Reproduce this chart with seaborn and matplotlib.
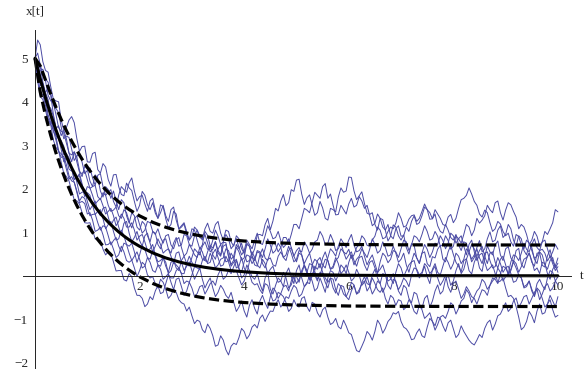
import numpy as np
import pandas as pd
import matplotlib
matplotlib.use('Agg')
import matplotlib.pyplot as plt
import seaborn as sns
from matplotlib.ticker import MultipleLocator, FixedLocator

# sample paths, one value every 0.05 in t from 0 to 10
path1 = [5.00, 5.42, 5.31, 4.92, 4.72, 4.68, 4.35, 4.06, 4.02, 4.00, 3.58, 3.35, 3.41, 3.58, 3.66, 3.52, 3.15, 2.86, 2.97, 2.98,
         2.62, 2.61, 2.81, 2.84, 2.44, 2.36, 2.58, 2.50, 2.21, 2.06, 2.32, 2.33, 2.05, 1.87, 1.84, 2.13, 2.02, 1.96, 1.71, 1.48,
         1.62, 1.94, 1.85, 1.63, 1.52, 1.68, 1.44, 1.32, 1.63, 1.59, 1.31, 1.10, 1.18, 1.48, 1.42, 1.07, 1.12, 1.19, 0.95, 0.82,
         1.08, 1.05, 0.82, 0.62, 0.71, 1.02, 0.93, 0.69, 0.64, 0.79, 0.58, 0.48, 0.77, 0.76, 0.45, 0.26, 0.36, 0.66, 0.55, 0.36,
         0.41, 0.75, 0.68, 0.47, 0.62, 0.94, 0.95, 0.92, 1.18, 1.32, 1.06, 1.26, 1.55, 1.49, 1.72, 1.87, 1.61, 1.68, 1.98, 1.94,
         2.20, 2.22, 1.88, 1.64, 1.79, 1.86, 1.62, 1.39, 1.45, 1.71, 1.56, 1.32, 1.28, 1.55, 1.52, 1.47, 1.81, 2.02, 1.92, 1.95,
         2.27, 2.26, 1.95, 1.75, 1.84, 1.93, 1.66, 1.44, 1.41, 1.45, 1.18, 1.05, 1.32, 1.29, 1.05, 0.80, 0.91, 1.17, 1.12, 0.92,
         0.82, 0.94, 0.65, 0.50, 0.74, 0.70, 0.41, 0.29, 0.52, 0.55, 0.28, 0.21, 0.44, 0.41, 0.61, 0.70, 0.38, 0.32, 0.55, 0.70,
         0.49, 0.31, 0.22, 0.09, 0.35, 0.39, 0.12, 0.04, 0.31, 0.45, 0.18, 0.10, 0.42, 0.69, 0.55, 0.48, 0.71, 0.80, 0.48, 0.35,
         0.62, 0.67, 0.41, 0.32, 0.58, 0.63, 0.27, 0.18, 0.39, 0.53, 0.31, 0.22, 0.52, 0.53, 0.24, 0.20, 0.46, 0.60, 0.33, 0.22, 0.41]
path2 = [5.00, 4.85, 4.38, 4.35, 4.05, 3.70, 3.52, 3.48, 3.21, 2.88, 2.72, 2.75, 2.55, 2.30, 2.18, 2.15, 1.92, 1.68, 1.71, 1.66,
         1.42, 1.45, 1.28, 1.02, 1.05, 1.12, 0.94, 0.71, 0.72, 0.78, 0.61, 0.42, 0.48, 0.68, 0.55, 0.35, 0.31, 0.36, 0.18, -0.02,
         0.12, 0.31, 0.25, 0.02, -0.05, -0.02, -0.18, -0.28, -0.08, -0.15, -0.31, -0.52, -0.45, -0.30, -0.38, -0.55, -0.62, -0.65, -0.81, -0.72,
         -0.92, -1.10, -1.02, -1.05, -1.24, -1.31, -1.11, -1.21, -1.38, -1.62, -1.59, -1.38, -1.48, -1.70, -1.82, -1.62, -1.55, -1.58, -1.42, -1.21,
         -1.28, -1.45, -1.36, -1.18, -1.12, -1.20, -0.98, -0.90, -1.05, -0.92, -0.81, -0.82, -0.66, -0.55, -0.72, -0.62, -0.48, -0.52, -0.35, -0.22,
         -0.28, -0.48, -0.42, -0.25, -0.15, -0.18, 0.05, 0.10, -0.08, 0.02, 0.21, 0.38, 0.35, 0.15, 0.18, 0.35, 0.42, 0.62, 0.55, 0.50,
         0.61, 0.40, 0.48, 0.65, 0.72, 0.92, 0.85, 0.70, 0.68, 0.82, 0.91, 1.12, 1.05, 0.85, 0.88, 1.02, 1.12, 1.08, 1.21, 1.45,
         1.32, 1.12, 1.15, 1.30, 1.38, 1.40, 1.25, 1.32, 1.48, 1.65, 1.52, 1.30, 1.31, 1.52, 1.42, 1.32, 1.18, 1.15, 1.35, 1.41,
         1.22, 1.32, 1.55, 1.75, 1.78, 1.85, 2.02, 1.88, 1.71, 1.62, 1.42, 1.35, 1.51, 1.45, 1.22, 1.02, 1.08, 1.25, 1.19, 1.02,
         0.92, 0.98, 0.78, 0.68, 0.95, 0.90, 0.71, 0.62, 0.82, 0.75, 0.58, 0.40, 0.45, 0.58, 0.61, 0.52, 0.34, 0.45, 0.28, 0.12, 0.21]
path3 = [5.00, 4.92, 4.62, 4.31, 4.21, 4.05, 3.72, 3.38, 3.31, 3.25, 3.02, 2.78, 2.81, 2.71, 2.45, 2.21, 2.28, 2.30, 2.05, 1.82,
         1.91, 1.85, 1.62, 1.41, 1.48, 1.52, 1.31, 1.08, 1.18, 1.25, 1.02, 0.82, 0.85, 1.05, 0.92, 0.72, 0.68, 0.75, 0.55, 0.31,
         0.48, 0.70, 0.61, 0.42, 0.38, 0.58, 0.45, 0.25, 0.22, 0.41, 0.31, 0.05, 0.12, 0.32, 0.25, 0.18, 0.05, -0.18, -0.12, -0.15,
         0.02, 0.21, 0.18, 0.15, 0.35, 0.45, 0.28, 0.31, 0.51, 0.61, 0.42, 0.22, 0.25, 0.45, 0.32, 0.12, 0.08, 0.12, -0.05, -0.21,
         -0.12, 0.08, 0.05, -0.15, -0.21, -0.18, -0.32, -0.41, -0.18, -0.22, -0.41, -0.58, -0.55, -0.38, -0.42, -0.48, -0.62, -0.82, -0.75, -0.55,
         -0.68, -0.72, -0.52, -0.48, -0.71, -0.82, -0.61, -0.65, -0.85, -0.95, -0.78, -0.72, -0.95, -1.12, -1.08, -0.98, -1.17, -1.22, -1.02, -1.15,
         -1.31, -1.35, -1.54, -1.72, -1.75, -1.62, -1.48, -1.28, -1.35, -1.48, -1.28, -1.02, -1.12, -1.32, -1.21, -1.05, -0.98, -0.85, -0.88, -0.82,
         -1.05, -1.18, -1.22, -1.31, -1.47, -1.45, -1.31, -1.22, -1.38, -1.42, -1.18, -0.98, -1.05, -1.25, -1.12, -0.95, -0.91, -0.98, -0.82, -0.62,
         -0.68, -0.88, -0.75, -0.58, -0.52, -0.32, -0.41, -0.62, -0.48, -0.35, -0.28, -0.08, -0.15, -0.31, -0.22, -0.12, -0.05, 0.18, 0.08, -0.12,
         -0.02, 0.05, 0.15, 0.35, 0.28, 0.08, 0.21, 0.38, 0.42, 0.52, 0.35, 0.12, 0.18, 0.05, 0.31, 0.28, 0.05, -0.08, 0.15, 0.25, 0.08]
path4 = [5.00, 4.72, 4.71, 4.75, 4.48, 4.15, 4.02, 3.98, 3.71, 3.41, 3.32, 3.28, 3.05, 2.82, 2.78, 2.85, 2.61, 2.38, 2.35, 2.42,
         2.21, 2.01, 2.05, 2.08, 1.82, 1.75, 1.91, 1.85, 1.62, 1.48, 1.51, 1.58, 1.38, 1.32, 1.52, 1.45, 1.25, 1.10, 1.31, 1.38,
         1.18, 0.98, 1.05, 1.25, 1.22, 1.02, 0.95, 1.08, 0.88, 0.75, 0.92, 0.95, 0.71, 0.62, 0.82, 0.88, 0.65, 0.45, 0.52, 0.72,
         0.61, 0.48, 0.42, 0.65, 0.55, 0.35, 0.31, 0.52, 0.38, 0.18, 0.25, 0.38, 0.41, 0.62, 0.58, 0.38, 0.45, 0.72, 0.62, 0.75,
         0.51, 0.32, 0.35, 0.55, 0.42, 0.25, 0.18, 0.38, 0.28, 0.05, 0.15, 0.22, 0.02, -0.15, -0.12, 0.08, -0.05, -0.28, -0.21, -0.02,
         -0.18, -0.08, 0.05, 0.25, 0.12, -0.10, -0.02, 0.22, 0.15, 0.28, 0.08, -0.05, -0.15, -0.05, -0.28, -0.40, -0.18, -0.25, -0.42, -0.48,
         -0.35, -0.15, -0.21, -0.42, -0.32, -0.18, -0.12, -0.35, -0.25, -0.05, -0.18, -0.32, -0.38, -0.28, -0.52, -0.65, -0.45, -0.51, -0.68, -0.55,
         -0.58, -0.78, -0.72, -0.55, -0.65, -0.82, -0.88, -0.68, -0.78, -0.98, -0.92, -0.85, -1.05, -1.15, -0.95, -0.98, -1.15, -1.28, -1.08, -1.02,
         -1.22, -1.42, -1.35, -1.15, -1.28, -1.38, -1.48, -1.55, -1.59, -1.48, -1.35, -1.42, -1.21, -1.08, -1.02, -1.25, -1.11, -0.92, -0.88, -0.75,
         -0.62, -0.82, -0.75, -0.58, -0.51, -0.72, -0.62, -0.48, -0.45, -0.65, -0.52, -0.38, -0.31, -0.55, -0.42, -0.25, -0.18, -0.35, -0.28, -0.12, -0.21]
path5 = [5.00, 4.58, 4.25, 4.15, 3.92, 3.62, 3.48, 3.35, 3.12, 2.85, 2.81, 2.68, 2.45, 2.22, 2.28, 2.15, 1.95, 1.72, 1.82, 1.78,
         1.58, 1.38, 1.41, 1.42, 1.22, 1.05, 1.15, 1.12, 0.92, 0.71, 0.81, 0.88, 0.68, 0.55, 0.75, 0.72, 0.52, 0.35, 0.45, 0.55,
         0.38, 0.18, 0.22, 0.42, 0.31, 0.12, 0.08, 0.25, 0.15, -0.08, -0.02, 0.05, -0.15, -0.32, -0.08, -0.05, -0.25, -0.45, -0.35, -0.15,
         -0.28, -0.48, -0.41, -0.25, -0.22, -0.42, -0.31, -0.18, -0.12, -0.22, 0.02, 0.15, -0.08, -0.02, 0.12, 0.05, 0.21, 0.35, 0.15, 0.08,
         0.32, 0.48, 0.45, 0.28, 0.38, 0.58, 0.55, 0.42, 0.62, 0.85, 0.71, 0.52, 0.58, 0.75, 0.65, 0.42, 0.48, 0.68, 0.52, 0.32,
         0.38, 0.58, 0.55, 0.78, 0.68, 0.52, 0.61, 0.78, 0.82, 1.02, 0.91, 0.72, 0.75, 0.95, 0.81, 0.58, 0.62, 0.75, 0.55, 0.38,
         0.48, 0.55, 0.35, 0.22, 0.42, 0.45, 0.25, 0.12, 0.31, 0.35, 0.18, 0.05, 0.32, 0.52, 0.45, 0.30, 0.38, 0.58, 0.55, 0.42,
         0.62, 0.82, 0.78, 0.58, 0.71, 0.92, 0.88, 0.78, 0.95, 1.15, 1.02, 0.82, 0.85, 1.02, 0.91, 0.68, 0.72, 0.92, 0.81, 0.61,
         0.68, 0.92, 0.85, 0.75, 0.95, 1.18, 1.12, 0.92, 1.05, 1.32, 1.21, 1.28, 1.38, 1.62, 1.52, 1.45, 1.68, 1.72, 1.45, 1.28,
         1.51, 1.68, 1.63, 1.48, 1.35, 1.08, 1.18, 1.12, 0.95, 0.72, 0.82, 1.02, 0.91, 0.68, 0.78, 1.02, 0.95, 1.08, 1.22, 1.52, 1.47]
path6 = [5.00, 4.48, 4.12, 4.05, 3.81, 3.55, 3.48, 3.12, 2.95, 2.88, 2.62, 2.35, 2.28, 2.18, 1.95, 1.75, 1.72, 1.65, 1.45, 1.22,
         1.21, 1.22, 1.05, 0.85, 0.82, 0.82, 0.61, 0.48, 0.55, 0.52, 0.32, 0.11, 0.12, 0.12, -0.09, -0.12, 0.05, -0.02, -0.28, -0.45,
         -0.45, -0.52, -0.71, -0.65, -0.48, -0.55, -0.35, -0.22, -0.41, -0.38, -0.18, 0.02, -0.05, -0.05, 0.12, 0.18, 0.05, 0.05, 0.28, 0.45,
         0.31, 0.22, 0.45, 0.55, 0.38, 0.35, 0.55, 0.70, 0.48, 0.38, 0.61, 0.72, 0.52, 0.32, 0.35, 0.52, 0.41, 0.18, 0.22, 0.42,
         0.18, 0.05, 0.32, 0.45, 0.25, 0.22, 0.48, 0.62, 0.41, 0.35, 0.55, 0.78, 0.72, 0.55, 0.65, 0.88, 0.88, 0.75, 0.95, 1.18,
         1.18, 1.08, 1.32, 1.55, 1.51, 1.45, 1.68, 1.92, 1.85, 1.78, 2.05, 2.12, 1.78, 1.88, 1.62, 1.40, 1.41, 1.62, 1.52, 1.42,
         1.65, 1.78, 1.58, 1.62, 1.82, 1.72, 1.55, 1.62, 1.38, 1.15, 1.21, 1.42, 1.32, 1.12, 1.05, 1.18, 0.92, 0.85, 1.08, 1.15,
         0.91, 0.92, 1.12, 1.02, 1.25, 1.38, 1.18, 1.22, 1.38, 1.58, 1.52, 1.45, 1.31, 1.42, 1.15, 1.02, 0.98, 1.18, 1.05, 0.88,
         0.82, 0.95, 0.71, 0.58, 0.78, 0.75, 0.55, 0.38, 0.48, 0.62, 0.41, 0.28, 0.52, 0.55, 0.35, 0.18, 0.21, 0.42, 0.28, 0.08,
         0.18, 0.22, 0.05, -0.15, -0.12, 0.02, -0.05, -0.28, -0.25, -0.12, -0.31, -0.45, -0.18, -0.08, -0.22, -0.32, -0.05, 0.12, 0.08, -0.12, -0.02]
path7 = [5.00, 5.12, 4.85, 4.62, 4.52, 4.45, 4.18, 3.92, 3.85, 3.75, 3.42, 3.15, 3.21, 3.18, 2.92, 2.65, 2.75, 2.82, 2.61, 2.35,
         2.42, 2.48, 2.25, 2.08, 2.31, 2.35, 2.05, 1.85, 1.92, 1.98, 1.71, 1.58, 1.85, 2.05, 1.98, 1.92, 2.14, 2.25, 1.95, 1.72,
         1.82, 1.85, 1.65, 1.48, 1.72, 1.78, 1.51, 1.32, 1.45, 1.62, 1.38, 1.25, 1.52, 1.58, 1.28, 1.08, 1.15, 1.22, 1.02, 0.82,
         0.91, 1.12, 1.05, 0.92, 0.82, 0.95, 0.75, 0.55, 0.61, 0.78, 0.52, 0.45, 0.68, 0.72, 0.45, 0.22, 0.31, 0.38, 0.18, -0.05,
         0.02, 0.25, 0.12, -0.02, -0.08, 0.05, -0.18, -0.35, -0.05, 0.08, -0.31, -0.42, -0.22, -0.05, -0.12, -0.25, 0.05, 0.18, -0.02, -0.18,
         0.12, 0.25, -0.05, -0.25, -0.18, 0.02, -0.12, -0.35, -0.28, -0.05, -0.21, -0.38, -0.05, 0.12, 0.08, -0.12, 0.02, 0.25, 0.18, 0.05,
         0.31, 0.48, 0.25, 0.38, 0.45, 0.62, 0.52, 0.42, 0.61, 0.85, 0.72, 0.52, 0.58, 0.78, 0.65, 0.45, 0.48, 0.68, 0.52, 0.31,
         0.38, 0.52, 0.25, 0.08, 0.32, 0.35, 0.12, -0.05, 0.05, 0.22, -0.02, -0.18, 0.15, 0.28, 0.08, 0.02, 0.22, 0.42, 0.31, 0.15,
         0.28, 0.52, 0.45, 0.28, 0.38, 0.62, 0.55, 0.72, 0.62, 0.45, 0.58, 0.68, 0.45, 0.28, 0.52, 0.55, 0.31, 0.18, 0.38, 0.45,
         0.25, 0.02, 0.12, 0.32, 0.18, 0.02, -0.05, -0.25, -0.21, -0.12, -0.35, -0.48, -0.28, -0.35, -0.52, -0.72, -0.65, -0.55, -0.78, -0.95, -0.91]
path8 = [5.00, 4.65, 4.55, 4.42, 4.15, 3.92, 3.85, 3.68, 3.42, 3.15, 3.11, 2.98, 2.72, 2.45, 2.41, 2.38, 2.15, 1.88, 1.92, 1.95,
         1.71, 1.52, 1.62, 1.72, 1.48, 1.38, 1.55, 1.58, 1.35, 1.15, 1.28, 1.35, 1.12, 0.95, 1.21, 1.25, 0.98, 0.78, 0.88, 1.02,
         0.81, 0.68, 0.92, 0.98, 0.75, 0.55, 0.68, 0.85, 0.72, 0.52, 0.58, 0.62, 0.45, 0.28, 0.52, 0.55, 0.31, 0.12, 0.22, 0.32,
         0.12, -0.08, 0.05, 0.18, -0.08, -0.28, -0.15, -0.05, -0.28, -0.48, -0.38, -0.22, -0.31, -0.45, -0.52, -0.38, -0.61, -0.82, -0.72, -0.58,
         -0.81, -0.95, -0.68, -0.55, -0.75, -0.88, -0.58, -0.45, -0.62, -0.75, -0.48, -0.28, -0.35, -0.52, -0.41, -0.25, -0.22, -0.35, -0.12, 0.05,
         -0.02, -0.15, 0.12, 0.25, 0.05, -0.08, 0.25, 0.38, 0.32, 0.18, 0.41, 0.55, 0.35, 0.15, 0.22, 0.42, 0.28, 0.05, 0.12, 0.25,
         0.08, -0.12, -0.05, 0.15, 0.02, -0.22, -0.15, -0.02, -0.22, -0.42, -0.31, -0.12, -0.18, -0.38, -0.25, 0.02, -0.05, -0.18, 0.08, 0.28,
         0.18, -0.02, 0.12, 0.25, 0.32, 0.52, 0.41, 0.28, 0.52, 0.72, 0.61, 0.42, 0.55, 0.75, 0.72, 0.92, 0.81, 0.62, 0.75, 0.98,
         0.92, 0.75, 0.85, 0.92, 0.68, 0.48, 0.72, 0.82, 0.55, 0.35, 0.48, 0.52, 0.31, 0.12, 0.18, 0.25, 0.05, -0.15, -0.12, -0.05,
         -0.28, -0.48, -0.45, -0.52, -0.71, -0.95, -1.24, -1.18, -1.05, -0.82, -0.92, -1.08, -0.81, -0.65, -0.88, -0.85, -0.65, -0.45, -0.58, -0.71, -0.48]
path9 = [5.00, 4.62, 4.48, 4.25, 3.98, 3.92, 3.61, 3.32, 3.22, 3.15, 2.91, 2.62, 2.72, 2.68, 2.48, 2.22, 2.25, 2.35, 2.12, 1.88,
         2.05, 2.02, 1.85, 1.65, 1.72, 1.78, 1.61, 1.42, 1.48, 1.55, 1.38, 1.15, 1.25, 1.42, 1.32, 1.12, 1.12, 1.22, 1.05, 0.82,
         0.91, 0.95, 0.78, 0.58, 0.62, 0.72, 0.48, 0.32, 0.35, 0.42, 0.22, 0.08, 0.31, 0.35, 0.18, 0.12, 0.35, 0.45, 0.28, 0.22,
         0.42, 0.62, 0.55, 0.48, 0.68, 0.78, 0.61, 0.62, 0.82, 1.05, 0.91, 0.72, 0.78, 0.95, 0.85, 0.62, 0.71, 0.85, 0.65, 0.48,
         0.58, 0.82, 0.72, 0.62, 0.81, 0.98, 0.75, 0.72, 0.92, 1.15, 1.02, 0.85, 0.88, 1.02, 0.81, 0.65, 0.72, 0.85, 0.65, 0.45,
         0.58, 0.65, 0.48, 0.28, 0.41, 0.52, 0.28, 0.12, 0.35, 0.42, 0.25, 0.18, 0.42, 0.62, 0.55, 0.45, 0.68, 0.85, 0.75, 0.65,
         0.82, 0.95, 0.71, 0.55, 0.58, 0.68, 0.45, 0.25, 0.38, 0.48, 0.28, 0.08, 0.15, 0.25, 0.05, -0.12, -0.08, 0.05, -0.15, -0.32,
         -0.21, -0.05, -0.12, -0.25, 0.02, 0.18, 0.15, 0.02, 0.08, 0.28, 0.21, 0.05, 0.12, 0.22, -0.05, -0.22, -0.12, 0.02, -0.25, -0.38,
         -0.18, -0.12, -0.31, -0.52, -0.42, -0.25, -0.35, -0.48, -0.52, -0.65, -0.48, -0.32, -0.35, -0.45, -0.22, -0.05, -0.08, -0.18, 0.05, 0.22,
         0.18, 0.05, 0.32, 0.48, 0.45, 0.35, 0.52, 0.75, 0.61, 0.55, 0.72, 0.85, 0.65, 0.58, 0.78, 0.82, 0.62, 0.42, 0.55, 0.72, 0.61]
path10 = [5.00, 4.75, 4.82, 4.45, 4.21, 4.32, 4.15, 3.72, 3.38, 3.45, 3.22, 3.35, 3.15, 2.82, 2.62, 2.85, 2.73, 2.42, 2.28, 2.52,
          2.45, 2.18, 2.05, 2.32, 2.25, 1.95, 1.81, 2.05, 1.98, 1.78, 1.95, 1.72, 1.52, 1.75, 1.68, 1.38, 1.21, 1.45, 1.38, 1.12,
          1.05, 1.25, 1.18, 0.92, 0.78, 1.02, 0.98, 0.72, 0.62, 0.82, 0.85, 0.62, 0.52, 0.75, 0.88, 0.68, 0.71, 0.95, 0.92, 0.72,
          0.68, 0.92, 1.05, 0.88, 0.85, 1.08, 1.21, 1.02, 0.98, 1.18, 1.25, 0.98, 0.82, 1.05, 1.02, 0.78, 0.68, 0.92, 0.85, 0.62,
          0.52, 0.72, 0.68, 0.45, 0.35, 0.55, 0.52, 0.28, 0.18, 0.38, 0.41, 0.25, 0.22, 0.45, 0.55, 0.42, 0.35, 0.58, 0.65, 0.45,
          0.32, 0.52, 0.48, 0.22, 0.08, 0.28, 0.25, 0.02, -0.12, 0.08, 0.05, -0.15, -0.28, -0.05, -0.08, -0.32, -0.45, -0.22, -0.25, -0.48,
          -0.55, -0.35, -0.22, -0.42, -0.38, -0.15, -0.02, -0.18, -0.21, 0.02, 0.15, -0.05, -0.18, 0.05, 0.02, -0.22, -0.31, -0.08, -0.12, -0.35,
          -0.45, -0.22, -0.28, -0.52, -0.62, -0.38, -0.42, -0.65, -0.75, -0.52, -0.45, -0.72, -0.58, -0.35, -0.21, -0.42, -0.35, -0.08, 0.02, -0.22,
          -0.12, 0.12, 0.28, 0.05, 0.15, 0.38, 0.55, 0.32, 0.42, 0.65, 0.81, 0.55, 0.62, 0.85, 1.01, 0.78, 0.82, 1.05, 1.15, 0.88,
          0.95, 1.18, 1.08, 0.82, 0.68, 0.92, 0.85, 0.58, 0.48, 0.72, 0.65, 0.38, 0.28, 0.55, 0.48, 0.25, 0.15, 0.35, 0.42, 0.18, 0.29]
paths = [path1, path2, path3, path4, path5, path6, path7, path8, path9, path10]

# mean curve and mean +/- one standard deviation
band_t = [0, 0.1, 0.2, 0.3, 0.4, 0.5, 0.6, 0.7, 0.8, 0.9, 1.0, 1.1, 1.2, 1.3, 1.4, 1.5, 1.6, 1.7, 1.8, 1.9,
          2.0, 2.25, 2.5, 2.75, 3.0, 3.25, 3.5, 3.75, 4.0, 4.5, 5, 6, 7, 8, 9, 10]
mean_x = [5.000, 4.524, 4.094, 3.704, 3.352, 3.033, 2.744, 2.483, 2.247, 2.033, 1.839, 1.664, 1.506, 1.363, 1.233, 1.116, 1.009, 0.913, 0.826, 0.748,
          0.677, 0.527, 0.410, 0.320, 0.249, 0.194, 0.151, 0.118, 0.092, 0.056, 0.034, 0.012, 0.005, 0.002, 0.001, 0.000]
upper_x = [5.000, 4.825, 4.500, 4.179, 3.877, 3.595, 3.335, 3.097, 2.879, 2.679, 2.497, 2.331, 2.180, 2.043, 1.918, 1.805, 1.701, 1.608, 1.523, 1.447,
           1.377, 1.230, 1.115, 1.026, 0.955, 0.901, 0.858, 0.825, 0.799, 0.763, 0.741, 0.719, 0.712, 0.709, 0.708, 0.707]
lower_x = [5.000, 4.223, 3.688, 3.229, 2.827, 2.471, 2.153, 1.869, 1.615, 1.387, 1.181, 0.997, 0.832, 0.683, 0.548, 0.427, 0.317, 0.218, 0.129, 0.049,
           -0.023, -0.176, -0.295, -0.386, -0.457, -0.513, -0.556, -0.589, -0.615, -0.651, -0.673, -0.695, -0.702, -0.705, -0.706, -0.707]

x_ticks = [2, 4, 6, 8, 10]
y_ticks = [-2, -1, 1, 2, 3, 4, 5]

sns.set_style('white')
plt.rcParams['font.family'] = ['Liberation Serif', 'DejaVu Serif']

fig = plt.figure(figsize=(5.84, 3.74), dpi=100)
ax = fig.add_axes([23 / 584, 6 / 374, 548 / 584, 338 / 374])

for p in paths:
    tt = np.linspace(0, 10, len(p))
    sns.lineplot(x=tt, y=p, ax=ax, color='#4a4aa4', lw=0.7, estimator=None)

sns.lineplot(x=band_t, y=mean_x, ax=ax, color='black', lw=2.2, estimator=None)
for b in [upper_x, lower_x]:
    ln = sns.lineplot(x=band_t, y=b, ax=ax, color='black', lw=2.3, estimator=None).lines[-1]
    ln.set_dashes((3.2, 1.4))

ax.set_xlim(-0.23, 10.25)
ax.set_ylim(-2.12, 5.65)

for s in ['top', 'right']:
    ax.spines[s].set_visible(False)
ax.spines['left'].set_position(('data', 0))
ax.spines['bottom'].set_position(('data', 0))
for s in ['left', 'bottom']:
    ax.spines[s].set_linewidth(0.7)
    ax.spines[s].set_color('#222222')

ax.xaxis.set_major_locator(FixedLocator(x_ticks))
ax.yaxis.set_major_locator(FixedLocator(y_ticks))
ax.xaxis.set_minor_locator(MultipleLocator(0.5))
ax.yaxis.set_minor_locator(MultipleLocator(0.2))
ax.set_xticklabels([str(v) for v in x_ticks])
ax.set_yticklabels(['\u22122', '\u22121', '1', '2', '3', '4', '5'])
ax.tick_params(which='both', direction='in', color='#222222', width=0.6, labelsize=9.5)
ax.tick_params(which='major', length=3.5)
ax.tick_params(which='minor', length=1.8)
ax.tick_params(axis='x', pad=4)
ax.tick_params(axis='y', pad=5)
ax.set_xlabel('')
ax.set_ylabel('')

ax.text(0, 6.07, 'x[t]', ha='center', va='center', fontsize=9.5, clip_on=False)
ax.text(10.42, 0, 't', ha='left', va='center', fontsize=9.5, clip_on=False)

fig.savefig('out.png', dpi=100)
